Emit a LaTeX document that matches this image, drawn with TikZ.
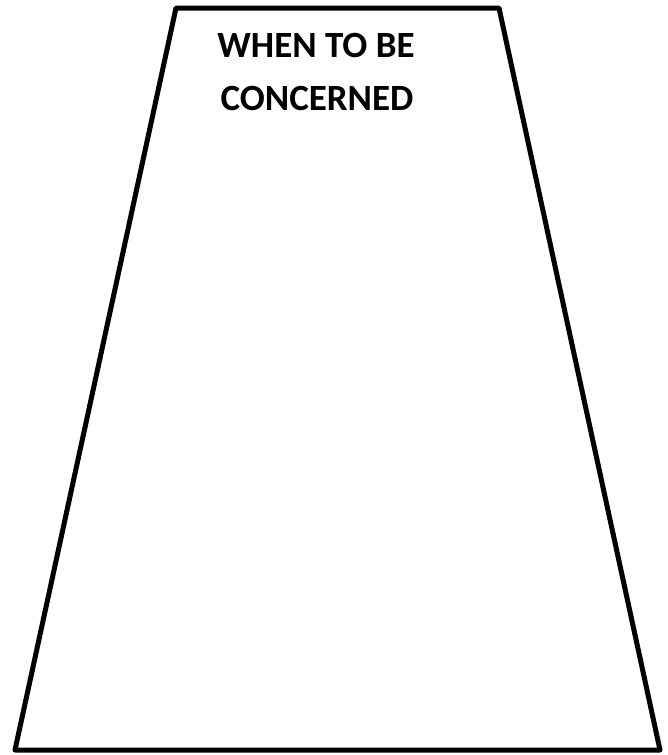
\documentclass[tikz,border=0pt]{standalone}
\usepackage{fontspec}
\setmainfont{Carlito}
\begin{document}
\begin{tikzpicture}[x=1pt,y=-1pt,
  edge/.style={line width=5pt, line join=round},
  title/.style={font=\fontsize{37}{53}\selectfont\bfseries, align=center, anchor=base, inner sep=0pt}]
\useasboundingbox (0,0) rectangle (668,755);
\coordinate (tl) at (176,8);
\coordinate (tr) at (499,8);
\coordinate (br) at (660,750);
\coordinate (bl) at (15,750);
\draw[edge] (tl) -- (tr) -- (br) -- (bl) -- cycle;
\node[title] (t1) at (316,57) {WHEN TO BE};
\node[title] (t2) at (317,110) {CONCERNED};
\end{tikzpicture}
\end{document}
